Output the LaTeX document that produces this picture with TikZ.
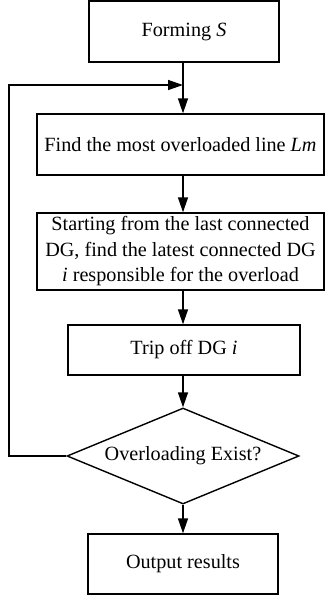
\documentclass[tikz,border=0pt]{standalone}
\usepackage{fontspec}
\setmainfont{Liberation Serif}
\usetikzlibrary{shapes.geometric,arrows.meta,calc}
\begin{document}
\begin{tikzpicture}[x=1pt,y=-1pt,
  box/.style={draw,line width=1.4pt,inner sep=0pt,align=center,font=\fontsize{20.2}{25.5}\selectfont},
  arr/.style={line width=1.4pt,-{Triangle[length=15pt,width=10pt]}},
  ln/.style={line width=1.4pt}]
\useasboundingbox (0,0) rectangle (325,598);
\node[box,minimum width=190pt,minimum height=61pt] (form) at (184,31.5) {Forming \textit{S}};
\node[box,minimum width=287pt,minimum height=61pt] (find) at (180.5,144.5) {Find the most overloaded line \textit{Lm}};
\node[box,minimum width=287pt,minimum height=77pt] (start) at (180.5,251.5) {Starting from the last connected\\DG, find the latest connected DG\\\textit{i} responsible for the overload};
\node[box,minimum width=232pt,minimum height=50pt] (trip) at (184,350) {Trip off DG \textit{i}};
\node[draw,line width=1.4pt,shape=diamond,inner sep=0pt,minimum width=232pt,minimum height=96pt] (dec) at (183,456) {};
\node[font=\fontsize{20.2}{25.5}\selectfont] (dect) at (dec.center) {Overloading Exist?};
\node[box,minimum width=190pt,minimum height=60pt] (out) at (183,564) {Output results};
\coordinate (join) at (183,85);
\coordinate (bl) at (9,456);
\coordinate (tl) at (9,85);
\draw[ln] (form.south -| join) -- (join);
\draw[arr] (join) -- (join |- find.north);
\draw[arr] (find.south -| join) -- (join |- start.north);
\draw[arr] (start.south -| join) -- (join |- trip.north);
\draw[arr] (trip.south -| join) -- (dec.north);
\draw[arr] (dec.south) -- (out.north -| dec.south);
\draw[arr] (dec.west) -- (bl) -- (tl) -- (join);
\end{tikzpicture}
\end{document}
